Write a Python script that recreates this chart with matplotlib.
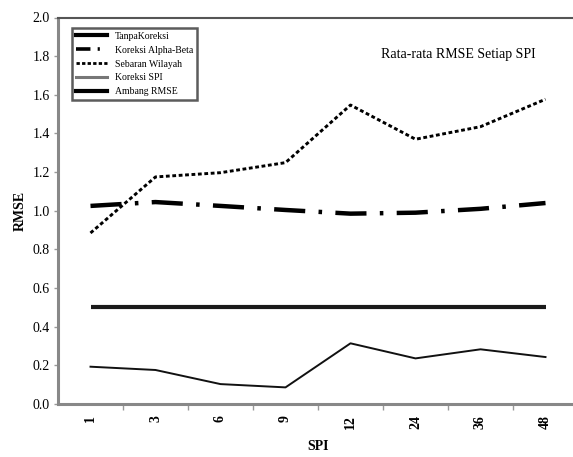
import matplotlib
matplotlib.use("Agg")
import matplotlib.pyplot as plt
from matplotlib.lines import Line2D

categories = ["1", "3", "6", "9", "12", "24", "36", "48"]
koreksi_alpha_beta = [1.025, 1.045, 1.025, 1.004, 0.985, 0.99, 1.01, 1.04]
sebaran_wilayah = [0.885, 1.175, 1.197, 1.249, 1.547, 1.37, 1.435, 1.577]
koreksi_spi = [0.193, 0.176, 0.103, 0.086, 0.314, 0.236, 0.283, 0.243]
ambang_rmse = [0.5, 0.5, 0.5, 0.5, 0.5, 0.5, 0.5, 0.5]
yticks = [0.0, 0.2, 0.4, 0.6, 0.8, 1.0, 1.2, 1.4, 1.6, 1.8, 2.0]

serif = ["Liberation Serif", "DejaVu Serif"]
plt.rcParams["font.family"] = serif

fig = plt.figure(figsize=(5.73, 4.57), dpi=100)
ax = fig.add_axes([58 / 573, 1 - 404 / 457, 1 - 58 / 573 + 5 / 573, (404 - 17.5) / 457])

x = list(range(len(categories)))
ax.plot(x, sebaran_wilayah, color="black", lw=2.1, linestyle=(0, (1.3, 0.9)))
ax.plot(x, koreksi_alpha_beta, color="black", lw=3.2, linestyle=(0, (7, 3, 0.8, 3)))
ax.plot(x, ambang_rmse, color="#1a1a1a", lw=3.0, solid_capstyle="butt")
ax.plot(x, koreksi_spi, color="#111111", lw=1.4)

ax.set_xlim(-0.5, 7.5)
ax.set_ylim(0, 2.0)
ax.set_yticks(yticks)
ax.set_yticklabels([f"{v:.1f}" for v in yticks], fontsize=10)
ax.set_xticks([i + 0.5 for i in range(len(categories) - 1)])
ax.set_xticklabels([])
ax.set_xticks(x, minor=True)
ax.set_xticklabels(categories, minor=True, rotation=90, fontsize=10, fontweight="bold")
ax.tick_params(axis="x", which="minor", length=0, pad=8)
ax.tick_params(axis="x", which="major", length=4, width=1, color="#999999", direction="out")
ax.tick_params(axis="y", length=3, width=1, color="#999999", direction="out", pad=3)

for s in ["left", "bottom"]:
    ax.spines[s].set_color("#888888")
    ax.spines[s].set_linewidth(2.2)
ax.spines["top"].set_color("#555555")
ax.spines["top"].set_linewidth(1.5)
ax.spines["right"].set_visible(False)

ax.set_ylabel("RMSE", fontsize=10, fontweight="bold", labelpad=4)
ax.set_xlabel("SPI", fontsize=10, fontweight="bold", labelpad=8)

ax.text(0.77, 0.905, "Rata-rata RMSE Setiap SPI", transform=ax.transAxes,
        ha="center", va="center", fontsize=10)

handles = [
    Line2D([], [], color="black", lw=3.0),
    Line2D([], [], color="black", lw=2.6, linestyle=(0, (4, 2, 0.6, 2))),
    Line2D([], [], color="black", lw=2.0, linestyle=(0, (1.2, 0.8))),
    Line2D([], [], color="#777777", lw=2.2),
    Line2D([], [], color="black", lw=3.0),
]
labels = ["TanpaKoreksi", "Koreksi Alpha-Beta", "Sebaran Wilayah", "Koreksi SPI", "Ambang RMSE"]
leg = ax.legend(handles, labels, loc="upper left", bbox_to_anchor=(0.027, 0.973),
                fontsize=7, frameon=True, fancybox=False, handlelength=3.2,
                handletextpad=0.8, labelspacing=0.5, borderpad=0.4,
                borderaxespad=0)
leg.get_frame().set_edgecolor("#333333")
leg.get_frame().set_linewidth(1.8)

fig.savefig("out.png", dpi=100)
